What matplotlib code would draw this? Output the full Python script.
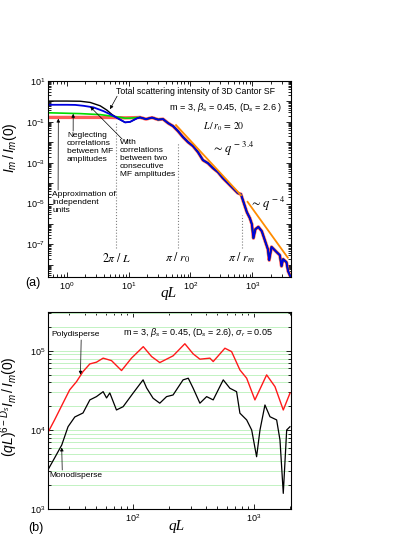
import numpy as np
import matplotlib
matplotlib.use("Agg")
import matplotlib.pyplot as plt
from matplotlib.ticker import LogLocator, FuncFormatter, NullFormatter

plt.rcParams["font.family"] = ["Liberation Sans", "DejaVu Sans"]
plt.rcParams["mathtext.fontset"] = "custom"
plt.rcParams["mathtext.rm"] = "Liberation Sans"
plt.rcParams["mathtext.it"] = "Liberation Sans:italic"
plt.rcParams["mathtext.bf"] = "Liberation Sans:bold"

# panel (a): common high-q part of all four curves
tail_q = [15.3, 19.1, 23.9, 29.9, 36.0, 43.4, 52.2, 62.8, 75.7, 91.2, 110, 132, 159, 191,
          231, 278, 334, 403, 484, 583, 653, 729, 815, 912, 982, 1040, 1120, 1250, 1420,
          1590, 1780, 1870, 2040, 2450, 2780, 2960, 3140, 3560, 3780, 4180]
tail_I = [0.166, 0.137, 0.163, 0.130, 0.137, 0.0873, 0.0622, 0.0354, 0.0180, 0.0102,
          6.52e-3, 3.31e-3, 1.34e-3, 9.55e-4, 5.43e-4, 3.46e-4, 1.76e-4, 1.0e-4, 5.69e-5,
          3.24e-5, 2.89e-5, 1.05e-5, 3.78e-6, 1.92e-6, 9.77e-7, 2.01e-7, 5.56e-7, 7.21e-7,
          4.44e-7, 1.61e-7, 5.82e-8, 1.68e-8, 7.53e-8, 4.29e-8, 2.96e-8, 8.53e-9, 1.88e-8,
          1.34e-8, 4.85e-9, 2.47e-9]

# low-q parts
total_q = [0.5, 1.0, 1.65, 2.39, 3.47, 4.45, 5.36, 6.45, 8.78, 10.6, 13.6]
total_I = [1.05, 1.05, 1.03, 0.90, 0.615, 0.378, 0.233, 0.159, 0.0945, 0.101, 0.149]
consec_q = [0.5, 1.0, 1.37, 1.87, 2.71, 3.92, 5.36, 6.45, 8.78, 10.6, 13.6]
consec_I = [0.69, 0.69, 0.68, 0.615, 0.514, 0.338, 0.216, 0.159, 0.0945, 0.101, 0.149]
neglect_q = [0.5, 1.65, 3.47, 6.45, 8.78, 10.6, 13.6]
neglect_I = [0.28, 0.255, 0.228, 0.178, 0.153, 0.153, 0.163]
indep_q = [0.5, 5.0, 8.78, 13.6]
indep_I = [0.166, 0.166, 0.158, 0.163]

# power-law guides
guide34_q = [58.4, 653]
guide34_I = [0.0697, 2.58e-5]
guide4_q = [837, 3740]
guide4_I = [1.21e-5, 2.23e-8]

# characteristic q values (2pi/L, pi/r0, pi/rm)
mark_q = [2 * np.pi, 20 * np.pi, 680]
mark_top = [0.098, 0.0102, 2.7e-6]
mark_bottom = 6.5e-8
mark_labels = [r"$2\pi\ /\ L$", r"$\pi\ /\ r_0$", r"$\pi\ /\ r_m$"]

# panel (b)
poly_q = [19.9, 22.6, 26.5, 30.1, 34.3, 38.8, 44.2, 50.1, 56.9, 66.7, 80.7, 97.5, 122, 143,
          167, 215, 269, 315, 358, 433, 461, 576, 654, 766, 871, 1019, 1273, 1492, 1747, 1985]
poly_I = [9250, 13400, 21800, 32100, 40800, 54700, 68400, 71900, 80900, 75300, 56400, 80900,
          113000, 84700, 71100, 86500, 123000, 91600, 78500, 80900, 73300, 108000, 97900,
          57400, 45100, 24000, 49700, 35300, 17900, 29200]
mono_q = [19.9, 22.6, 25.9, 29.2, 33.2, 38.8, 44.2, 50.1, 56.9, 60.7, 64.6, 73.3, 83.2, 100.5,
          121.6, 130, 147, 167, 190, 215, 260, 287, 315, 358, 407, 461, 507, 558, 633, 719,
          766, 871, 958, 1052, 1122, 1233, 1357, 1540, 1641, 1747, 1864, 1985]
mono_I = [3120, 4420, 6450, 11000, 14600, 16400, 24000, 26400, 30500, 25400, 29400, 17900,
          19700, 29200, 43000, 34000, 25200, 21800, 26400, 27700, 43000, 45100, 33700, 21800,
          26400, 24000, 32100, 43000, 33700, 30500, 16300, 13400, 10000, 4590, 10000, 20700,
          14700, 13400, 7460, 1580, 10000, 11000]


def log_ticks(ax, odd_only=False):
    def fmt(v, pos):
        e = int(round(np.log10(v)))
        if odd_only and e % 2 == 0:
            return ""
        return r"$10^{%d}$" % e
    ax.yaxis.set_major_locator(LogLocator(base=10, numticks=20))
    ax.yaxis.set_major_formatter(FuncFormatter(fmt))
    ax.yaxis.set_minor_locator(LogLocator(base=10, subs=np.arange(2, 10), numticks=20))
    ax.yaxis.set_minor_formatter(NullFormatter())
    ax.xaxis.set_major_locator(LogLocator(base=10, numticks=20))
    ax.xaxis.set_major_formatter(FuncFormatter(lambda v, p: r"$10^{%d}$" % int(round(np.log10(v)))))
    ax.xaxis.set_minor_locator(LogLocator(base=10, subs=np.arange(2, 10), numticks=20))
    ax.xaxis.set_minor_formatter(NullFormatter())
    ax.tick_params(which="both", direction="in", top=True, right=True, width=0.6,
                   labelsize=6.5, pad=2)
    ax.tick_params(which="major", length=3.5)
    ax.tick_params(which="minor", length=2)
    for s in ax.spines.values():
        s.set_linewidth(0.8)


def arrow(ax, head, tail):
    ax.annotate("", xy=head, xycoords="data", xytext=tail, textcoords="axes fraction",
                arrowprops=dict(arrowstyle="-|>", color="k", lw=0.5, mutation_scale=5,
                                shrinkA=0, shrinkB=0))


fig = plt.figure(figsize=(4.15, 5.37), dpi=100)
ax1 = fig.add_axes([0.116, 0.484, 0.585, 0.365])
ax2 = fig.add_axes([0.116, 0.052, 0.585, 0.367])

# ---- (a)
ax1.set_xscale("log")
ax1.set_yscale("log")
ax1.plot(indep_q + tail_q, indep_I + tail_I, color="#ff5a5a", lw=2.4)
ax1.plot(neglect_q + tail_q, neglect_I + tail_I, color="#00dd00", lw=1.2)
ax1.plot(total_q + tail_q, total_I + tail_I, color="black", lw=1.0)
ax1.plot(consec_q + tail_q, consec_I + tail_I, color="#0000e0", lw=1.3)
ax1.plot(guide34_q, guide34_I, color="#ff8c00", lw=1.3)
ax1.plot(guide4_q, guide4_I, color="#ff8c00", lw=1.3)
for q, top, lab in zip(mark_q, mark_top, mark_labels):
    ax1.plot([q, q], [mark_bottom, top], color="gray", ls=":", lw=0.8)
    ax1.text(q, 2.1e-8, lab, ha="center", va="center", fontsize=8.5, math_fontfamily="stix")
ax1.set_xlim(0.5, 4200)
ax1.set_ylim(2.5e-9, 10)
log_ticks(ax1, odd_only=True)

ax1.text(0.280, 0.949, "Total scattering intensity of 3D Cantor SF", transform=ax1.transAxes,
         fontsize=6.3, ha="left", va="center")
arrow(ax1, (5.0, 0.42), (0.284, 0.923))
ax1.text(0.498, 0.867, r"m = 3, $\beta_s$ = 0.45, (D$_s$ = 2.6 )", transform=ax1.transAxes,
         fontsize=6.6, ha="left", va="center")
ax1.text(0.638, 0.765, r"$L\,/\,r_0\,=\,20$", transform=ax1.transAxes, fontsize=7,
         ha="left", va="center", math_fontfamily="stix")
ax1.text(0.675, 0.655, r"$\sim q^{\,-\,3.4}$", transform=ax1.transAxes, fontsize=9,
         ha="left", va="center", math_fontfamily="stix")
ax1.text(0.83, 0.375, r"$\sim q^{\,-\,4}$", transform=ax1.transAxes, fontsize=9,
         ha="left", va="center", math_fontfamily="stix")
ax1.text(0.078, 0.740, "Neglecting\ncorrelations\nbetween MF\namplitudes",
         transform=ax1.transAxes, fontsize=6, ha="left", va="top", linespacing=1.2)
arrow(ax1, (1.27, 0.25), (0.103, 0.745))
ax1.text(0.296, 0.704, "With\ncorrelations\nbetween two\nconsecutive\nMF amplitudes",
         transform=ax1.transAxes, fontsize=6, ha="left", va="top", linespacing=1.2)
arrow(ax1, (2.4, 0.55), (0.305, 0.704))
ax1.text(0.016, 0.440, "Approximation of\nindependent\nunits",
         transform=ax1.transAxes, fontsize=6, ha="left", va="top", linespacing=1.2)
arrow(ax1, (0.73, 0.145), (0.041, 0.444))

ax1.set_xlabel("qL", fontfamily="Liberation Serif", fontstyle="italic", fontsize=11)
ax1.xaxis.set_label_coords(0.494, -0.05)
ax1.set_ylabel(r"$I_m\,/\,I_m\mathit{(0)}$", fontsize=10)
ax1.yaxis.set_label_coords(-0.12, 0.66)

# ---- (b)
ax2.set_xscale("log")
ax2.set_yscale("log")
ax2.set_xlim(20, 2020)
ax2.set_ylim(1e3, 3.1e5)
log_ticks(ax2)
ax2.grid(True, which="both", axis="y", color="#b8f0b8", lw=0.6)
ax2.plot(poly_q, poly_I, color="#ff1a1a", lw=1.0)
ax2.plot(mono_q, mono_I, color="black", lw=0.9)

ax2.text(0.309, 0.898, r"m = 3, $\beta_s$ = 0.45, (D$_s$ = 2.6), $\sigma_r$ = 0.05",
         transform=ax2.transAxes, fontsize=6.5, ha="left", va="center")
ax2.text(0.012, 0.888, "Polydisperse", transform=ax2.transAxes, fontsize=6,
         ha="left", va="center")
arrow(ax2, (37, 50000), (0.136, 0.858))
ax2.text(0.004, 0.168, "Monodisperse", transform=ax2.transAxes, fontsize=6,
         ha="left", va="center")
arrow(ax2, (25.9, 6000), (0.058, 0.198))

ax2.set_xlabel("qL", fontfamily="Liberation Serif", fontstyle="italic", fontsize=11)
ax2.xaxis.set_label_coords(0.531, -0.055)
ax2.set_ylabel(r"$(qL)^{6-D_s} I_m\,/\,I_m\mathit{(0)}$", fontsize=10)
ax2.yaxis.set_label_coords(-0.115, 0.52)

fig.text(0.08, 0.473, "(a)", fontsize=9, ha="center", va="center")
fig.text(0.087, 0.017, "(b)", fontsize=9, ha="center", va="center")

fig.savefig("out.png", dpi=100)
